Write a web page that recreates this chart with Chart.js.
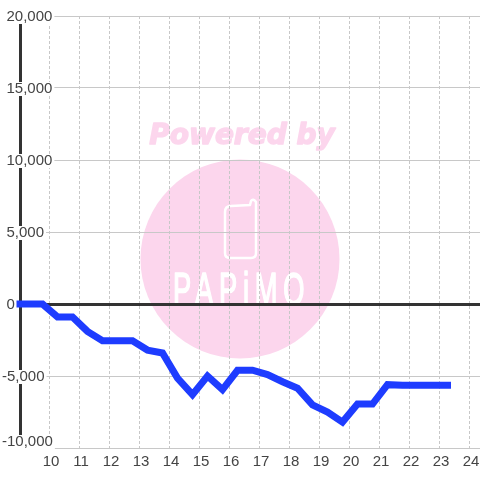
<!DOCTYPE html>
<html><head><meta charset="utf-8">
<style>html,body{margin:0;padding:0;background:#fff}canvas{display:block}</style>
<script src="https://cdn.jsdelivr.net/npm/chart.js@4"></script>
</head><body><canvas id="c" width="480" height="480"></canvas>
<script>
const hours = [9,9.25,9.75,10.25,10.75,11.25,11.75,12.25,12.75,13.25,13.75,14.25,14.75,15.25,15.75,16.25,16.75,17.25,17.75,18.25,18.75,19.25,19.75,20.25,20.75,21.25,21.75,22.25,22.75,23.25];
const balance = [0,0,0,-900,-900,-1900,-2550,-2550,-2550,-3200,-3400,-5150,-6300,-5000,-5950,-4600,-4600,-4900,-5400,-5850,-7000,-7500,-8200,-6950,-6950,-5600,-5650,-5650,-5650,-5650];
const hourTicks = [10,11,12,13,14,15,16,17,18,19,20,21,22,23,24];
const yLabelValues = [20000,15000,10000,5000,0,-5000,-10000];
const yLabels = ['20,000','15,000','10,000','5,000','0','-5,000','-10,000'];
const poweredText = 'Powered by';
const logoText = 'PAPiMO';

const watermark = {
  id:'watermark',
  beforeDraw(chart){
    const c = chart.ctx;
    c.save();
    c.fillStyle='#fff'; c.fillRect(0,0,480,480);
    c.fillStyle='#fcd6ed';
    c.strokeStyle='#fcd6ed';
    c.beginPath(); c.arc(240,259,99.5,0,Math.PI*2); c.fill();
    c.font='italic bold 28px "DejaVu Sans"';
    c.textAlign='center'; c.textBaseline='alphabetic';
    c.lineWidth=1.4; c.lineJoin='round';
    c.fillText(poweredText,242,144);
    c.strokeText(poweredText,242,144);
    c.strokeStyle='#fff'; c.lineWidth=2.5; c.lineJoin='round'; c.lineCap='round';
    c.beginPath();
    c.moveTo(250,205); c.lineTo(231,206);
    c.quadraticCurveTo(225,206,225,212);
    c.lineTo(225,253);
    c.quadraticCurveTo(225,258,230,258);
    c.lineTo(251,258);
    c.quadraticCurveTo(256,258,256,253);
    c.lineTo(256,202);
    c.quadraticCurveTo(253,198,251,201);
    c.lineTo(250,205);
    c.stroke();
    c.fillStyle='#fff';
    c.strokeStyle='#fff';
    c.lineWidth=1.7;
    c.translate(173,305);
    c.scale(0.58,1);
    c.font='47px "Liberation Sans"';
    c.textAlign='left';
    c.letterSpacing='10px';
    c.fillText(logoText,0,0);
    c.strokeText(logoText,0,0);
    c.restore();
  }
};
const labelTweak = {
  id:'labelTweak',
  beforeDraw(chart){
    chart.scales.y.getLabelItems().forEach(it=>{
      const b = it.options.backdrop;
      if(it.label==null||it.label==='') return;
      if(String(it.label).startsWith('-')) { it.options.translation[0]-=4.5; }
      it.options.translation[1]+=1;
      if(it.label==='-10,000') { it.options.translation[1]-=7; }
      if(b){ b.top=-7; b.height=14; b.width+=2; }
    });
    chart.scales.x.getLabelItems().forEach(it=>{ it.options.translation[0]+=1; });
  }
};
new Chart(document.getElementById('c'),{
  type:'line',
  data:{datasets:[{
    data:hours.map((h,i)=>({x:h,y:balance[i]})),
    borderColor:'#1e3cff',borderWidth:7,tension:0,pointRadius:0,
    borderCapStyle:'square',borderJoinStyle:'miter',clip:false
  }]},
  plugins:[watermark,labelTweak],
  options:{
    responsive:false,animation:false,
    layout:{padding:{top:16,left:0,right:0,bottom:0}},
    plugins:{legend:{display:false},tooltip:{enabled:false}},
    scales:{
      x:{
        type:'linear',min:9,max:24.3334,
        afterBuildTicks(s){ s.ticks = hourTicks.map(v=>({value:v})); },
        afterFit(s){ s.height=32; s.paddingLeft=0; s.paddingRight=0; },
        border:{display:false,dash:[3,2]},
        grid:{color:'#c8c8c8',lineWidth:1,drawTicks:false},
        ticks:{color:'#444',font:{family:'"Liberation Sans"',size:15},padding:5,maxRotation:0,autoSkip:false,
          callback:v=>String(v)}
      },
      y:{
        min:-10000,max:20000,
        afterFit(s){ s.width=20; s.paddingTop=0; s.paddingBottom=0; },
        border:{display:true,color:'#333',width:3},
        grid:{
          drawTicks:false,
          color:c=>c.tick.value===0?'#333':'#c8c8c8',
          lineWidth:c=>c.tick.value===0?3:1
        },
        ticks:{stepSize:2500,autoSkip:false,mirror:true,crossAlign:'near',padding:-13.5,
          color:'#444',font:{family:'"Liberation Sans"',size:15},
          showLabelBackdrop:c=>yLabelValues.includes(c.tick.value),
          backdropColor:'#fff',backdropPadding:0,
          callback:v=>{const i=yLabelValues.indexOf(v);return i<0?null:yLabels[i];}
        }
      }
    }
  }
});
</script></body></html>
